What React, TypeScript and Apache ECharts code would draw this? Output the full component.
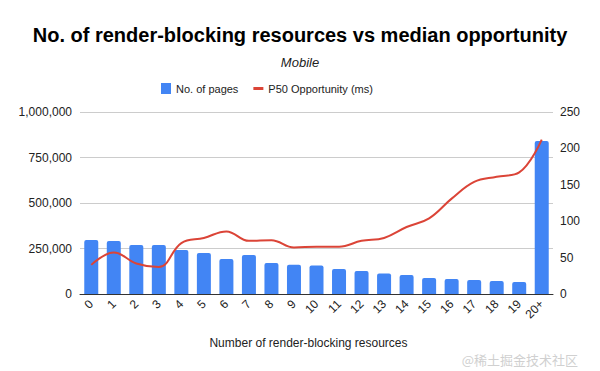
import React, { useEffect, useRef } from "react";
import * as echarts from "echarts";

const categories = ["0","1","2","3","4","5","6","7","8","9","10","11","12","13","14","15","16","17","18","19","20+"];
const pages = [297000,291000,269000,269000,242000,225000,192000,214000,170000,161000,156000,137000,126000,112000,104000,88000,82000,77000,71000,66000,841000];
const p50 = [40,57,42,37,70,77,86,73,74,64,65,65,73,77,92,104,131,154,161,167,212];
const leftTicks = [0, 250000, 500000, 750000, 1000000];

const FONT = "Liberation Sans, Arial, sans-serif";

export default function App() {
  const ref = useRef<HTMLDivElement>(null);
  useEffect(() => {
    const chart = echarts.init(ref.current!, null, { renderer: "svg" });
    chart.setOption({
      animation: false,
      textStyle: { fontFamily: FONT },
      title: [
        { text: "No. of render-blocking resources vs median opportunity", left: "center", top: 20,
          textStyle: { fontFamily: FONT, fontSize: 20, fontWeight: "bold", color: "#000" } },
        { text: "Mobile", left: "center", top: 51,
          textStyle: { fontFamily: FONT, fontSize: 13, fontStyle: "italic", fontWeight: "normal", color: "#222" } },
      ],
      legend: {
        top: 78, left: 156, itemWidth: 10, itemHeight: 11, itemGap: 15,
        textStyle: { fontFamily: FONT, fontSize: 11, color: "#222" },
        data: [
          { name: "No. of pages", icon: "rect" },
          { name: "P50 Opportunity (ms)", icon: "path://M0,0 M10,11 M0,4 L10,4 L10,7 L0,7 Z" },
        ],
      },
      grid: { left: 80, right: 47, top: 112, bottom: 77, containLabel: false },
      xAxis: {
        type: "category", data: categories,
        axisTick: { show: false },
        axisLine: { lineStyle: { color: "#333", width: 1 } },
        axisLabel: { rotate: 45, fontSize: 12, color: "#222", margin: 8, interval: 0 },
        name: "Number of render-blocking resources", nameLocation: "middle", nameGap: 43,
        nameTextStyle: { fontSize: 12, color: "#222", padding: [0, 16, 0, 0] },
      },
      yAxis: [
        { type: "value", min: 0, max: leftTicks[leftTicks.length - 1], interval: 250000,
          axisLine: { show: false }, axisTick: { show: false },
          axisLabel: { fontSize: 12, color: "#222", margin: 8,
            formatter: (v: number) => v.toLocaleString("en-US") },
          splitLine: { lineStyle: { color: "#ccc" } } },
        { type: "value", min: 0, max: 250, interval: 50,
          axisLine: { show: false }, axisTick: { show: false },
          axisLabel: { fontSize: 12, color: "#222", margin: 7 },
          splitLine: { show: false } },
      ],
      series: [
        { name: "No. of pages", type: "bar", data: pages, barWidth: 14, yAxisIndex: 0,
          itemStyle: { color: "#4285f4", borderRadius: [2, 2, 0, 0] } },
        { name: "P50 Opportunity (ms)", type: "line", data: p50, yAxisIndex: 1, smooth: 0.4,
          symbol: "none", lineStyle: { color: "#db4437", width: 2 }, itemStyle: { color: "#db4437" } },
      ],
      graphic: [
        { type: "text", right: 22, bottom: 5,
          style: { text: "@稀土掘金技术社区", fontSize: 13, fill: "#d0d0d0", fontFamily: "Noto Sans CJK SC" } },
      ],
    });
    return () => chart.dispose();
  }, []);
  return <div ref={ref} style={{ width: 600, height: 371, position: "absolute", left: 0, top: 0 }} />;
}
